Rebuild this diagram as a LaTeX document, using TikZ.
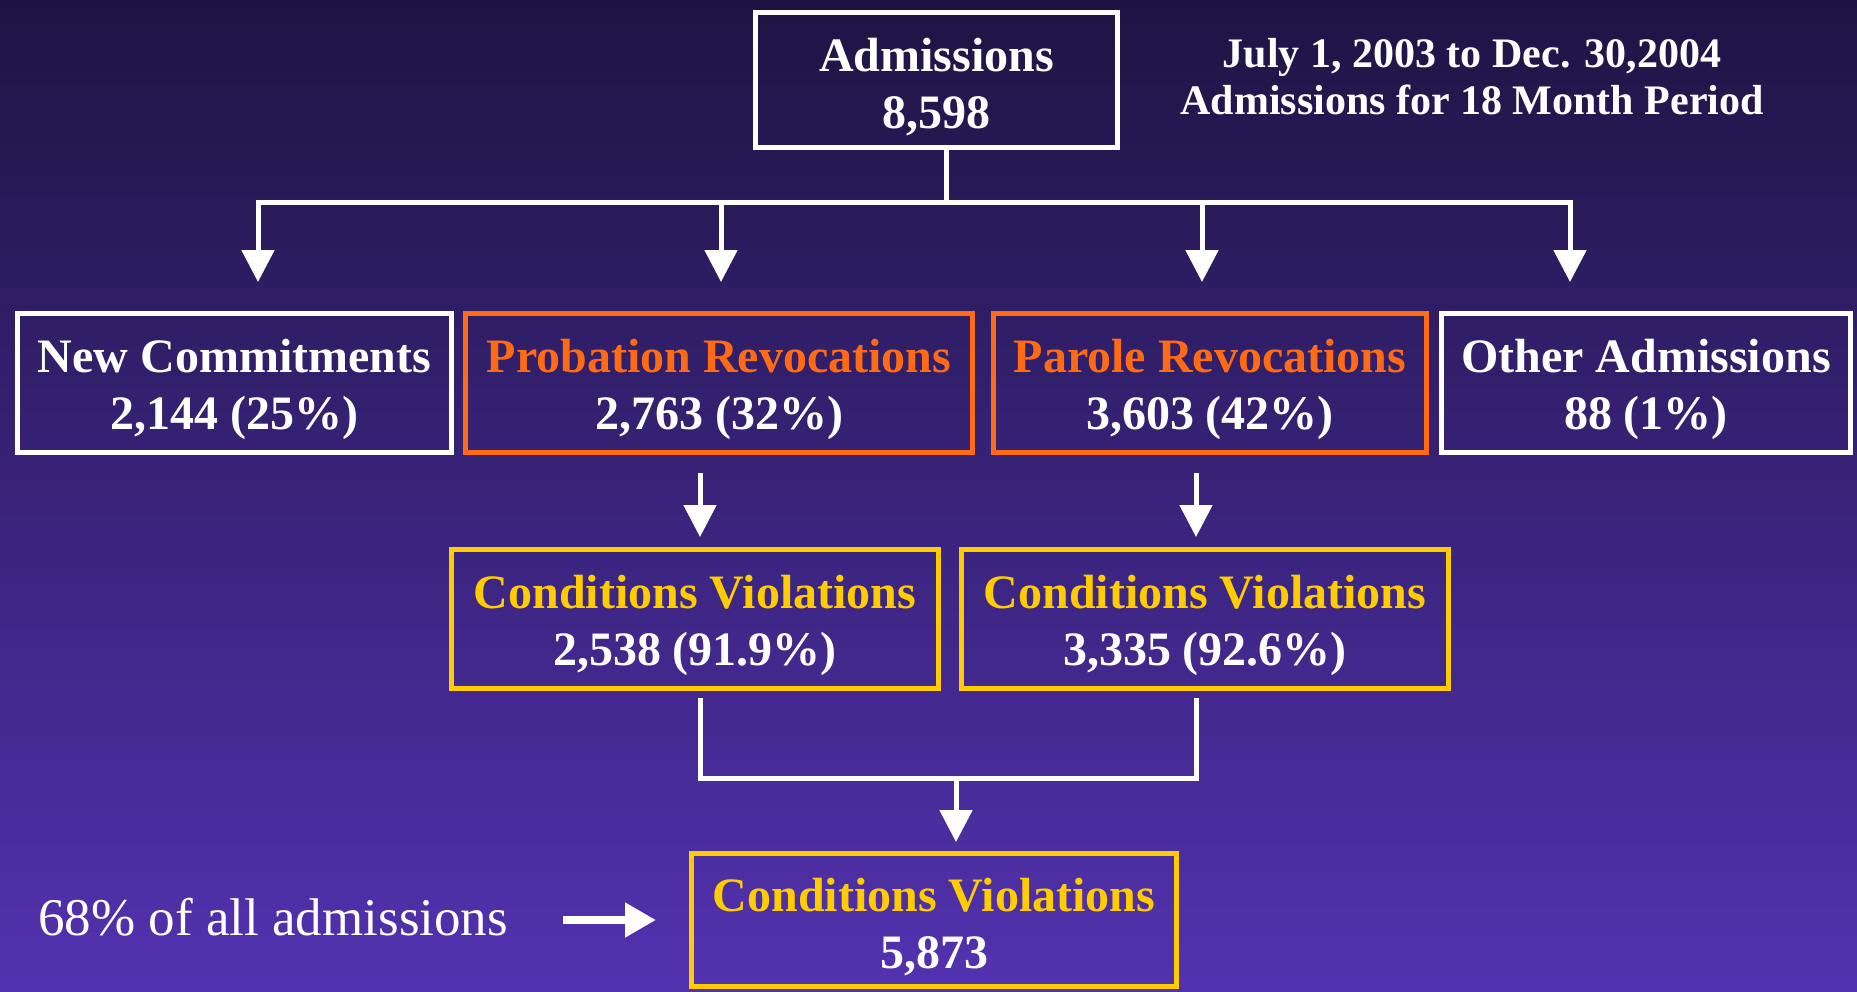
\documentclass[tikz,border=0pt]{standalone}
\usepackage{fontspec}
\setmainfont{Liberation Serif}
\usetikzlibrary{arrows.meta}
\definecolor{bgTop}{RGB}{30,20,67}
\definecolor{bgBot}{RGB}{83,50,176}
\definecolor{revOrange}{RGB}{255,107,20}
\definecolor{violYellow}{RGB}{255,204,0}

\begin{document}
\begin{tikzpicture}
      [x=0.5pt,y=-0.5pt,
       nodeBox/.style={draw=white,line width=2.5pt,align=center,text=white,inner sep=0pt,
         minimum height=69.5pt,text height=52pt,font=\fontsize{24}{28.5}\selectfont\bfseries},
       nodeRev/.style={nodeBox,draw=revOrange},
       nodeViol/.style={nodeBox,draw=violYellow},
       link/.style={white,line width=2.5pt},
       linkArrow/.style={link,-{Triangle[width=16pt,length=16pt]}}]
      \shade[top color=bgTop,bottom color=bgBot] (0,0) rectangle (1857,991);
      \useasboundingbox (0,0) rectangle (1857,991);

      \node[nodeBox,minimum width=181pt,minimum height=67.5pt] (adm) at (936.5,80) {Admissions\\8,598};
      \node[text=white,align=center,font=\fontsize{21}{23.5}\selectfont\bfseries] (period) at (1472,77)
        {July 1, 2003 to Dec. 30,2004\\Admissions for 18 Month Period};

      \node[nodeBox,minimum width=217pt] (newc) at (234.5,383) {New Commitments\\2,144 (25\%)};
      \node[nodeRev,minimum width=253.5pt] (prob) at (719,383) {\textcolor{revOrange}{Probation Revocations}\\2,763 (32\%)};
      \node[nodeRev,minimum width=216.5pt] (parole) at (1210,383) {\textcolor{revOrange}{Parole Revocations}\\3,603 (42\%)};
      \node[nodeBox,minimum width=204.5pt] (other) at (1646,383) {Other Admissions\\88 (1\%)};

      \node[nodeViol,minimum width=243.5pt] (cv1) at (695,619) {\textcolor{violYellow}{Conditions Violations}\\2,538 (91.9\%)};
      \node[nodeViol,minimum width=243.5pt] (cv2) at (1205,619) {\textcolor{violYellow}{Conditions Violations}\\3,335 (92.6\%)};
      \node[nodeViol,minimum width=242.5pt,minimum height=66.5pt] (cvall) at (934,920) {\textcolor{violYellow}{Conditions Violations}\\5,873};

      \node[text=white,inner sep=0pt,anchor=base west,font=\fontsize{26.5}{30}\selectfont] (pct) at (38,935) {68\% of all admissions};

      \coordinate (hub) at (946,202);
      \coordinate (a1) at (258,282);
      \coordinate (a2) at (721,282);
      \coordinate (a3) at (1202,282);
      \coordinate (a4) at (1570,282);
      \coordinate (x1) at (700,0);
      \coordinate (x2) at (1196,0);
      \coordinate (mrg) at (956,778);

      \draw[link] (hub |- adm.south) -- (hub);
      % branch bar with the two outer arrows
      \draw[link,{Triangle[width=16pt,length=16pt]}-{Triangle[width=16pt,length=16pt]}]
        (a1) -- (a1 |- hub) -- (a4 |- hub) -- (a4);
      \foreach \tip in {a2,a3}
      \draw[linkArrow] (\tip |- hub) -- (\tip);

      \foreach \from/\tip/\col in {prob/cv1/x1,parole/cv2/x2}
      \draw[linkArrow,shorten <=9pt,shorten >=5pt] (\from.south -| \col) -- (\tip.north -| \col);

      % join of the two violation boxes
      \draw[link,shorten <=3.5pt,shorten >=3.5pt]
        (cv1.south -| x1) -- (x1 |- mrg) -- (x2 |- mrg) -- (cv2.south -| x2);
      \draw[linkArrow,shorten >=4.5pt] (mrg) -- (mrg |- cvall.north);

      \draw[white,line width=4pt,-{Triangle[width=16.5pt,length=15.5pt]},shorten <=27.5pt,shorten >=16.5pt]
        (pct.east |- cvall.west) -- (cvall.west);
    \end{tikzpicture}
\end{document}
